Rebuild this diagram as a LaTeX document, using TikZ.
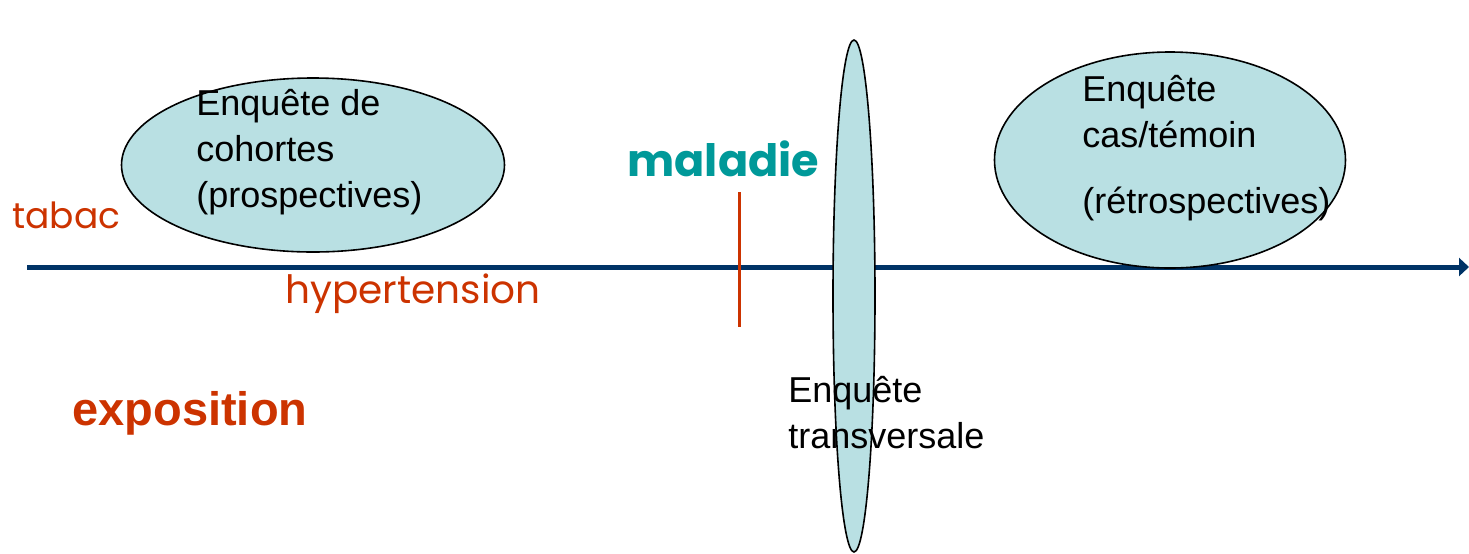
\documentclass[tikz,border=0pt]{standalone}
\usepackage{fontspec}
\setmainfont{Liberation Sans}
\newfontfamily\comicfont{Poppins}
\usepackage{tikz}
\usetikzlibrary{positioning,arrows.meta,shapes.geometric}

\definecolor{etudefill}{RGB}{185,224,227}
\definecolor{axenavy}{RGB}{0,51,102}
\definecolor{expored}{RGB}{204,51,0}
\definecolor{maladieteal}{RGB}{0,153,153}

\begin{document}
\begin{tikzpicture}[x=0.5pt, y=-0.5pt,
    etude/.style={ellipse, draw=black, line width=0.8pt, fill=etudefill, inner sep=0pt},
    label/.style={anchor=base west, inner sep=0pt, align=left,
                  font=\fontsize{18}{23}\selectfont},
    facteur/.style={anchor=base west, inner sep=0pt, text=expored,
                    font=\comicfont\fontsize{18}{22}\selectfont},
    axe/.style={line width=2.5pt, axenavy, -{Triangle[length=5pt, width=9pt]}}
  ]
    \useasboundingbox (0,0) rectangle (1469,553);

    \coordinate (debut) at (27,267);
    \coordinate (fin) at (1469,267);
    \draw[axe] (debut) -- (fin);

    \coordinate (repere haut) at (739,192);
    \coordinate (repere bas) at (739,327);
    \draw[line width=1.5pt, expored] (repere haut) -- (repere bas);

    \node[etude, minimum width=191.5pt, minimum height=87pt] (cohorte) at (313,165) {};
    \node[etude, minimum width=175.5pt, minimum height=108pt] (castemoin) at (1170,160) {};
    \node[etude, minimum width=21pt, minimum height=256pt] (transv) at (854,296) {};

    \node[label] (cohorte txt) at (196,207) {Enquête de\\cohortes\\(prospectives)};
    \node[label] (castemoin txt) at (1082,213) {Enquête\\cas/témoin\\[10pt](rétrospectives)};
    \node[label] (transv txt) at (788,448) {Enquête\\transversale};

    \node[facteur] (tabac) at (12,228) {tabac};
    \node[facteur, font=\comicfont\fontsize{19.5}{22}\selectfont] (hta) at (285,303) {hypertension};
    \node[anchor=base west, inner sep=0pt, text=maladieteal,
          font=\comicfont\bfseries\fontsize{22.3}{26}\selectfont] (maladie) at (627,176) {maladie};
    \node[anchor=base west, inner sep=0pt, text=expored,
          font=\bfseries\fontsize{23.5}{26}\selectfont] (expo) at (72,425) {exposition};
  \end{tikzpicture}
\end{document}
